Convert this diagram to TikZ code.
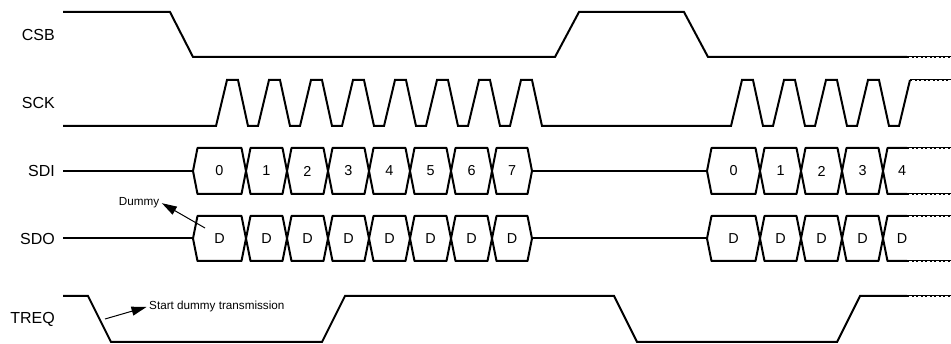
\documentclass[tikz,border=0pt]{standalone}
\usepackage{fontspec}
\setmainfont{Liberation Sans}
\usetikzlibrary{arrows.meta}

\begin{document}
\begin{tikzpicture}[
        x=1pt, y=-1pt,
        sig/.style={draw=black, line width=2pt},
        bus/.style={draw=black, line width=2pt, line join=round},
        cont/.style={draw=black, line width=1pt, postaction={draw, line width=2.7pt, dash pattern=on 2.4pt off 2.1pt}},
        signame/.style={anchor=east, inner sep=0pt, font=\fontsize{16}{19}\selectfont},
        bit/.style={inner sep=0pt, font=\fontsize{14.4}{17}\selectfont},
        note/.style={inner sep=2.5pt, font=\fontsize{11.7}{14}\selectfont},
        callout/.style={draw=black, line width=1pt, -{Triangle[length=15pt,width=9pt]}}
    ]
        \useasboundingbox (0,0) rectangle (951,344);

        \node[signame] (csb) at (55,34.5) {CSB};
        \node[signame] (sck) at (55,103) {SCK};
        \node[signame] (sdi) at (55,171) {SDI};
        \node[signame] (sdo) at (55,238.5) {SDO};
        \node[signame] (treq) at (55,319) {TREQ};

        % chip select
        \draw[sig] (63,12) -- (170,12) -- (193,57) -- (555,57) -- (579,12) -- (684,12) -- (708,57) -- (907,57);
        \draw[cont] (907,57) -- (951,57);

        % clock
        \draw[sig] (63,126) foreach \t in {227,269,...,521} { -- (\t-11,126) -- (\t,80) -- (\t+11,80) -- (\t+21,126) }
            -- (731,126) foreach \t in {742,784,...,868} { -- (\t-11,126) -- (\t,80) -- (\t+11,80) -- (\t+21,126) }
            -- (899,126) -- (910,80);
        \draw[cont] (910,80) -- (951,80);

        % data lines
        \draw[sig] (63,171) -- (193,171);
        \draw[sig] (63,238.5) -- (193,238.5);
        \draw[sig] (532,171) -- (707,171);
        \draw[sig] (532,238.5) -- (707,238.5);

        \foreach \a/\b [count=\i from 0] in {193/246,246/287,287/328,328/369,369/410,410/451,451/492,492/532} {
            \draw[bus] (\a,171) -- (\a+4.5,148) -- (\b-4.5,148) -- (\b,171) -- (\b-4.5,194) -- (\a+4.5,194) -- cycle;
            \node[bit] (sdia\i) at ({(\a+\b)/2},171) {\i};
            \draw[bus] (\a,238.5) -- (\a+4.5,216) -- (\b-4.5,216) -- (\b,238.5) -- (\b-4.5,261) -- (\a+4.5,261) -- cycle;
            \node[bit] (sdoa\i) at ({(\a+\b)/2},238.5) {D};
        }
        \foreach \a/\b [count=\i from 0] in {707/760,760/801,801/842,842/883} {
            \draw[bus] (\a,171) -- (\a+4.5,148) -- (\b-4.5,148) -- (\b,171) -- (\b-4.5,194) -- (\a+4.5,194) -- cycle;
            \node[bit] (sdib\i) at ({(\a+\b)/2},171) {\i};
            \draw[bus] (\a,238.5) -- (\a+4.5,216) -- (\b-4.5,216) -- (\b,238.5) -- (\b-4.5,261) -- (\a+4.5,261) -- cycle;
            \node[bit] (sdob\i) at ({(\a+\b)/2},238.5) {D};
        }
        \draw[bus] (907,148) -- (887.5,148) -- (883,171) -- (887.5,194) -- (907,194);
        \draw[bus] (907,216) -- (887.5,216) -- (883,238.5) -- (887.5,261) -- (907,261);
        \node[bit] (sdib4) at (902,171) {4};
        \node[bit] (sdob4) at (902,238.5) {D};
        \draw[cont] (907,148) -- (951,148);
        \draw[cont] (907,194) -- (951,194);
        \draw[cont] (907,216) -- (951,216);
        \draw[cont] (907,261) -- (951,261);

        % transfer request
        \draw[sig] (63,296) -- (88,296) -- (111,342) -- (322,342) -- (345,296) -- (614,296) -- (637,342) -- (837,342) -- (860,296) -- (907,296);
        \draw[cont] (907,296) -- (951,296);

        \node[note, anchor=base] (dummy) at (139,206) {Dummy};
        \coordinate (dummyfrom) at (205,228);
        \draw[callout] (dummyfrom) -- (dummy.east);

        \node[note, anchor=base west] (start) at (146.5,310) {Start dummy transmission};
        \coordinate (startfrom) at (105,319);
        \draw[callout] (startfrom) -- (start.west);
    \end{tikzpicture}
\end{document}
